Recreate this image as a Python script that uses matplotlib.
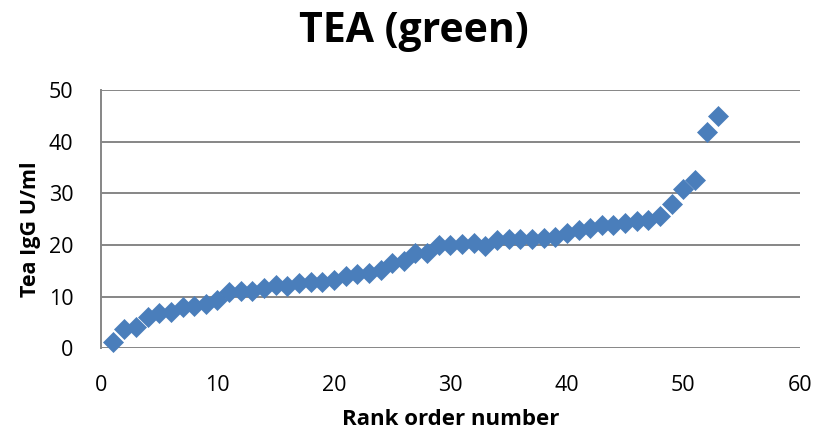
import matplotlib.pyplot as plt

# Rank order 1..53 and the measured IgG level for each sample
rank = list(range(1, 54))
igg = [1.2, 3.7, 4.1, 6.0, 6.9, 7.0, 8.0, 8.1, 8.6, 9.4,
       10.9, 11.0, 11.1, 11.6, 12.3, 12.1, 12.6, 12.8, 12.9, 13.2,
       13.9, 14.4, 14.5, 15.2, 16.5, 16.9, 18.5, 18.4, 19.9, 19.9,
       20.2, 20.3, 19.7, 21.0, 21.1, 21.1, 21.1, 21.3, 21.6, 22.3,
       22.8, 23.2, 23.8, 23.8, 24.3, 24.7, 24.8, 25.6, 28.0, 30.9,
       32.5, 41.8, 44.9]

x_ticks = [0, 10, 20, 30, 40, 50, 60]
y_ticks = [0, 10, 20, 30, 40, 50]

plt.rcParams["font.family"] = ["Open Sans", "DejaVu Sans"]

fig = plt.figure(figsize=(8.27, 4.33), dpi=100)
ax = fig.add_axes([0.1221, 0.196, 0.845, 0.596])

grid_color = "#868686"
for y in y_ticks:
    ax.axhline(y, color=grid_color, lw=1.4, zorder=1)

ax.plot(rank, igg, linestyle="none", marker="D", markersize=10.5,
        color="#4A7EBB", markeredgecolor="#4A7EBB", markeredgewidth=0.5,
        zorder=3, clip_on=False)

ax.set_xlim(0, 60)
ax.set_ylim(0, 50)
ax.set_xticks(x_ticks)
ax.set_yticks(y_ticks)
ax.tick_params(length=0, labelsize=15.5)
ax.tick_params(axis="y", pad=20)
ax.tick_params(axis="x", pad=19)

for side in ["top", "right", "bottom"]:
    ax.spines[side].set_visible(False)
ax.spines["left"].set_color(grid_color)
ax.spines["left"].set_linewidth(1.4)

ax.set_xlabel("Rank order number", fontsize=16, fontweight="bold", labelpad=10)
ax.set_ylabel("Tea IgG U/ml", fontsize=15.5, fontweight="bold")
ax.yaxis.set_label_coords(-0.086, 0.46)
fig.suptitle("TEA (green)", fontsize=29.5, fontweight="bold", x=0.5, y=0.975)

fig.savefig("out.png", dpi=100)
